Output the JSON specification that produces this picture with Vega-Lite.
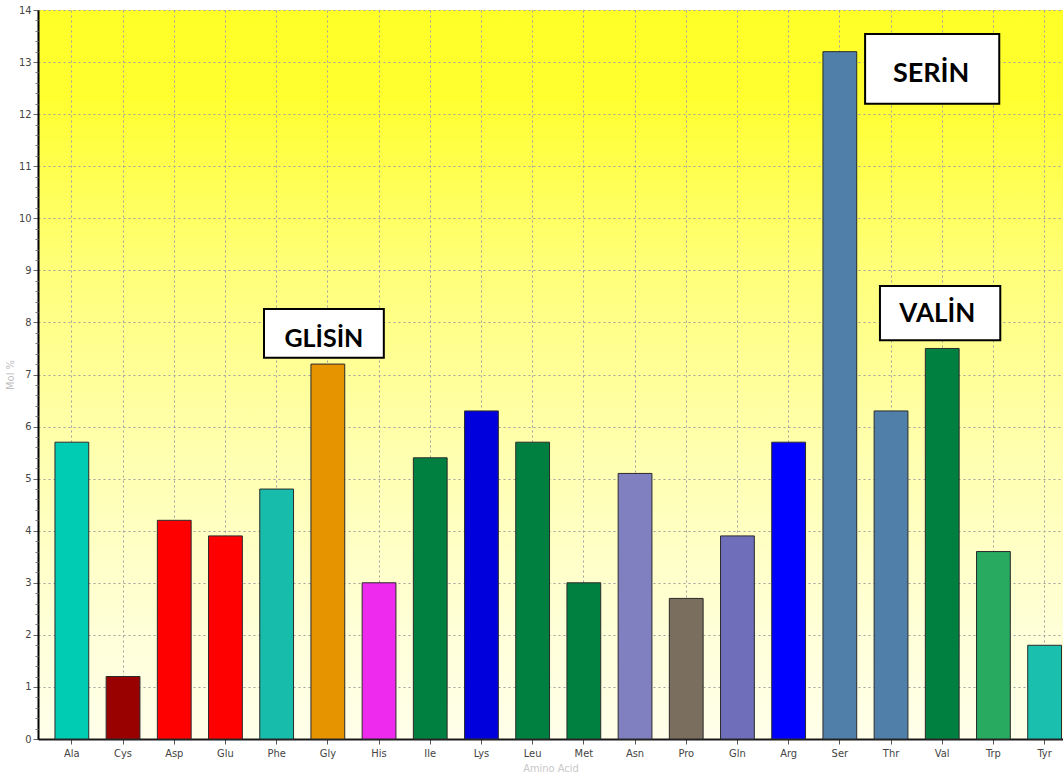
{
  "$schema": "https://vega.github.io/schema/vega-lite/v6.json",
  "width": 1025,
  "height": 729,
  "autosize": {"type": "none"},
  "padding": {"left": 38, "top": 10, "right": 0, "bottom": 39},
  "background": "#ffffff",
  "view": {
    "stroke": null,
    "fill": {
      "gradient": "linear",
      "x1": 0, "y1": 0, "x2": 0, "y2": 1,
      "stops": [
        {"offset": 0, "color": "#ffff28"},
        {"offset": 0.12, "color": "#ffff30"},
        {"offset": 0.35, "color": "#ffff78"},
        {"offset": 0.6, "color": "#ffffae"},
        {"offset": 0.85, "color": "#ffffd8"},
        {"offset": 1, "color": "#ffffea"}
      ]
    }
  },
  "datasets": {
    "bars": [
      {"aa": "Ala", "mol": 5.7},
      {"aa": "Cys", "mol": 1.2},
      {"aa": "Asp", "mol": 4.2},
      {"aa": "Glu", "mol": 3.9},
      {"aa": "Phe", "mol": 4.8},
      {"aa": "Gly", "mol": 7.2},
      {"aa": "His", "mol": 3.0},
      {"aa": "Ile", "mol": 5.4},
      {"aa": "Lys", "mol": 6.3},
      {"aa": "Leu", "mol": 5.7},
      {"aa": "Met", "mol": 3.0},
      {"aa": "Asn", "mol": 5.1},
      {"aa": "Pro", "mol": 2.7},
      {"aa": "Gln", "mol": 3.9},
      {"aa": "Arg", "mol": 5.7},
      {"aa": "Ser", "mol": 13.2},
      {"aa": "Thr", "mol": 6.3},
      {"aa": "Val", "mol": 7.5},
      {"aa": "Trp", "mol": 3.6},
      {"aa": "Tyr", "mol": 1.8}
    ],
    "notes": [
      {"label": "GLİSİN", "x1": 3.75, "x2": 6.09, "y1": 7.32, "y2": 8.26, "tx": 4.92, "ty": 7.53, "fs": "s"},
      {"label": "SERİN", "x1": 15.49, "x2": 18.11, "y1": 12.2, "y2": 13.54, "tx": 16.78, "ty": 12.62, "fs": "l"},
      {"label": "VALİN", "x1": 15.78, "x2": 18.13, "y1": 7.66, "y2": 8.7, "tx": 16.9, "ty": 8.01, "fs": "m"}
    ]
  },
  "resolve": {"scale": {"x": "independent", "y": "independent"}},
  "layer": [
    {
      "data": {"name": "bars"},
      "mark": {"type": "bar", "stroke": "#2a2a2a", "strokeWidth": 1},
      "encoding": {
        "x": {
          "field": "aa", "type": "nominal", "sort": null,
          "scale": {"paddingInner": 0.34, "paddingOuter": 0.18, "align": 0.92},
          "axis": {
            "title": "Amino Acid",
            "titleColor": "#c8c8c8", "titleFont": "Liberation Sans Narrow, DejaVu Sans Condensed, Liberation Sans", "titleFontSize": 11, "titleFontWeight": "normal",
            "titlePadding": 4,
            "labelAngle": 0, "labelColor": "#444444", "labelFont": "Liberation Sans Narrow, DejaVu Sans Condensed, Liberation Sans", "labelFontSize": 11, "labelPadding": 3,
            "domainColor": "#1a1a1a", "domainWidth": 2,
            "tickColor": "#555555", "tickSize": 5, "bandPosition": 0.5,
            "grid": true, "gridColor": "#a0a0a0", "gridDash": [2, 3], "gridWidth": 1
          }
        },
        "y": {
          "field": "mol", "type": "quantitative",
          "scale": {"domain": [0, 14], "nice": false},
          "axis": {
            "title": "Mol %",
            "titleColor": "#c0c0c0", "titleFont": "Liberation Sans Narrow, DejaVu Sans Condensed, Liberation Sans", "titleFontSize": 11, "titleFontWeight": "normal",
            "titlePadding": 3,
            "values": [0,1,2,3,4,5,6,7,8,9,10,11,12,13,14],
            "labelOverlap": false,
            "labelColor": "#444444", "labelFont": "Liberation Sans Narrow, DejaVu Sans Condensed, Liberation Sans", "labelFontSize": 11, "labelPadding": 2,
            "domainColor": "#000000", "domainWidth": 2,
            "tickColor": "#666666", "tickSize": 5,
            "grid": true, "gridColor": "#a0a0a0", "gridDash": [2, 3], "gridWidth": 1
          }
        },
        "color": {
          "field": "aa", "type": "nominal", "legend": null,
          "scale": {
            "domain": ["Ala","Cys","Asp","Glu","Phe","Gly","His","Ile","Lys","Leu","Met","Asn","Pro","Gln","Arg","Ser","Thr","Val","Trp","Tyr"],
            "range": ["#00ccb4","#990000","#ff0000","#ff0000","#18bcaa","#e69500","#ee2aee","#008040","#0000dd","#008040","#008040","#8080c0","#7a6e5e","#6e6eba","#0000ff","#5080aa","#5080aa","#008040","#28aa60","#1abfad"]
          }
        }
      }
    },
    {
      "data": {"name": "notes"},
      "mark": {"type": "rect", "fill": "#ffffff", "stroke": "#000000", "strokeWidth": 2},
      "encoding": {
        "x": {"field": "x1", "type": "quantitative", "scale": {"domain": [-0.664, 19.355], "nice": false, "zero": false}, "axis": null},
        "x2": {"field": "x2"},
        "y": {
          "field": "y1", "type": "quantitative",
          "scale": {"domain": [0, 14], "nice": false},
          "axis": {
            "orient": "left", "title": null, "labels": false, "grid": false, "domain": false,
            "values": [0.2,0.4,0.6,0.8,1.2,1.4,1.6,1.8,2.2,2.4,2.6,2.8,3.2,3.4,3.6,3.8,4.2,4.4,4.6,4.8,5.2,5.4,5.6,5.8,6.2,6.4,6.6,6.8,7.2,7.4,7.6,7.8,8.2,8.4,8.6,8.8,9.2,9.4,9.6,9.8,10.2,10.4,10.6,10.8,11.2,11.4,11.6,11.8,12.2,12.4,12.6,12.8,13.2,13.4,13.6,13.8],
            "tickColor": "#777777", "tickSize": 3, "offset": 0
          }
        },
        "y2": {"field": "y2"}
      }
    },
    {
      "data": {"name": "notes"},
      "mark": {"type": "text", "font": "Lato", "fontWeight": "bold", "color": "#000000", "align": "center", "baseline": "alphabetic"},
      "encoding": {
        "x": {"field": "tx", "type": "quantitative", "scale": {"domain": [-0.664, 19.355], "nice": false, "zero": false}, "axis": null},
        "y": {"field": "ty", "type": "quantitative", "scale": {"domain": [0, 14], "nice": false}, "axis": null},
        "text": {"field": "label"},
        "size": {"field": "fs", "type": "nominal", "legend": null, "scale": {"domain": ["s", "m", "l"], "range": [25, 27, 35]}}
      }
    }
  ]
}
